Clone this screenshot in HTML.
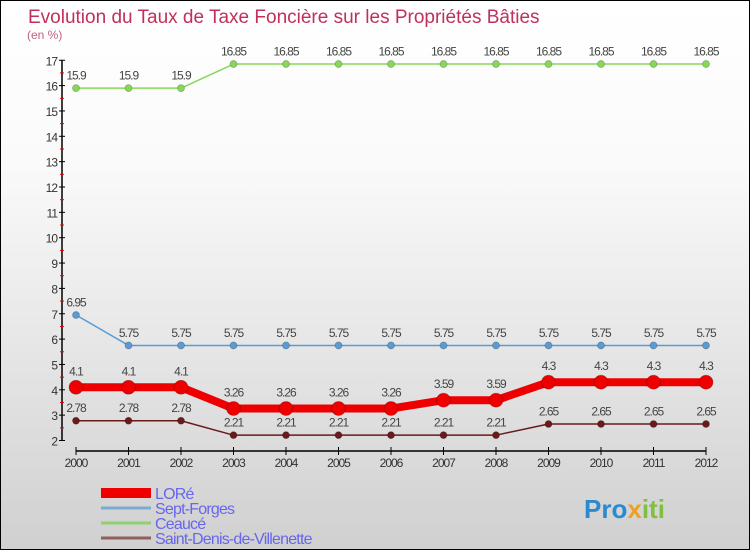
<!DOCTYPE html>
<html><head><meta charset="utf-8"><style>
body{margin:0}
#c{width:750px;height:550px;position:relative;box-sizing:border-box;border:1px solid #000;background:linear-gradient(#ffffff,#fafafa 30%,#d0d0d0);overflow:hidden;font-family:"Liberation Sans","DejaVu Sans",sans-serif}
</style></head><body>
<div id="c">
<svg id="s" width="750" height="550" style="position:absolute;left:0;top:0"></svg>
</div>
<script>
const years=["2000","2001","2002","2003","2004","2005","2006","2007","2008","2009","2010","2011","2012"];
const lore=[4.1,4.1,4.1,3.26,3.26,3.26,3.26,3.59,3.59,4.3,4.3,4.3,4.3];
const sept=[6.95,5.75,5.75,5.75,5.75,5.75,5.75,5.75,5.75,5.75,5.75,5.75,5.75];
const ceauce=[15.9,15.9,15.9,16.85,16.85,16.85,16.85,16.85,16.85,16.85,16.85,16.85,16.85];
const stdenis=[2.78,2.78,2.78,2.21,2.21,2.21,2.21,2.21,2.21,2.65,2.65,2.65,2.65];
const yTicks=[2,3,4,5,6,7,8,9,10,11,12,13,14,15,16,17];
const seriesNames=["LORé","Sept-Forges","Ceaucé","Saint-Denis-de-Villenette"];
const NS="http://www.w3.org/2000/svg",s=document.getElementById("s");
const X=i=>75+i*52.5, Y=v=>439.5-(v-2)*25.35;
function el(t,a,txt){const e=document.createElementNS(NS,t);for(const k in a)e.setAttribute(k,a[k]);if(txt!=null)e.textContent=txt;s.appendChild(e);return e;}
let e;
e=el("text",{x:27,y:22,fill:"#c0305a","font-size":19},"Evolution du Taux de Taxe Foncière sur les Propriétés Bâties");

e=el("text",{x:26,y:38,fill:"#c06080","font-size":12},"(en %)");

e=el("line",{x1:61,y1:Y(17),x2:61,y2:Y(2),stroke:"#000","stroke-width":1.5});

yTicks.forEach(v=>{
 el("line",{x1:58,x2:64,y1:Y(v),y2:Y(v),stroke:"#000"});
 if(v<17){el("line",{x1:59,x2:63,y1:Y(v+0.5),y2:Y(v+0.5),stroke:"#e00"});}
 e=el("text",{x:56,y:Y(v)+5,"text-anchor":"end","font-size":12,fill:"#333","letter-spacing":"-1"},v);
 
});
e=el("line",{x1:X(0),y1:450,x2:X(12),y2:450,stroke:"#000","stroke-width":1.5});

years.forEach((y,i)=>{
 el("line",{x1:X(i),x2:X(i),y1:446,y2:454,stroke:"#000"});
 e=el("text",{x:X(i),y:466,"text-anchor":"middle","font-size":12,fill:"#333","letter-spacing":"-1"},y);
 
});
function series(data,color,w,r,name){
 const pts=data.map((v,i)=>X(i)+","+Y(v)).join(" ");
 e=el("polyline",{points:pts,fill:"none",stroke:color,"stroke-width":w,"stroke-linejoin":"round"});
 
 data.forEach((v,i)=>{
  e=el("circle",{cx:X(i),cy:Y(v),r:r,fill:color,stroke:"rgba(0,0,0,0.25)","stroke-width":0.8});
  
  e=el("text",{x:X(i),y:Y(v)-r-5,"text-anchor":"middle","font-size":12,fill:"#444","letter-spacing":"-1"},String(v));
  
 });
}
series(ceauce,"#88d858",1.5,3.5,"ceauce");
series(sept,"#5b9bd5",1.5,3.5,"sept-forges");
series(stdenis,"#6a1a1a",1.5,3.5,"saint-denis");
series(lore,"#ee0000",8,7,"lore");
const lc=["#ee0000","#7aaed0","#90d070","#906060"],lw=[10,3,3,3];
seriesNames.forEach((n,i)=>{
 const y=492+i*15;
 e=el("line",{x1:100,x2:150,y1:y,y2:y,stroke:lc[i],"stroke-width":lw[i]});
 
 e=el("text",{x:154,y:y+6,"font-size":16,fill:"#6666ee","letter-spacing":"-0.8"},n);
 
});
e=document.createElementNS(NS,"text");
e.setAttribute("x",583);e.setAttribute("y",517);e.setAttribute("font-size",26);e.setAttribute("font-weight","bold");
e.innerHTML='<tspan fill="#2a8ad0">Pro</tspan><tspan fill="#f0a020">x</tspan><tspan fill="#80c040">iti</tspan>';


s.appendChild(e);
</script>
</body></html>
